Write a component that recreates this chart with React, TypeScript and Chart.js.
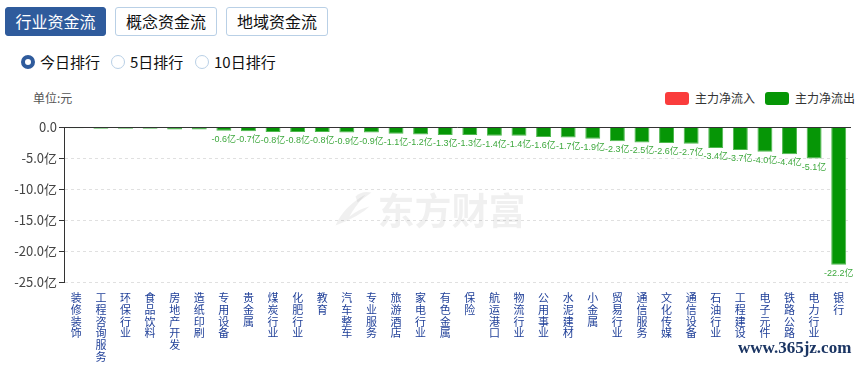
import React, { useEffect, useRef } from "react";
import { Chart, registerables } from "chart.js";

Chart.register(...registerables);

const categories = [
  "装修装饰", "工程咨询服务", "环保行业", "食品饮料", "房地产开发", "造纸印刷", "专用设备", "贵金属",
  "煤炭行业", "化肥行业", "教育", "汽车整车", "专业服务", "旅游酒店", "家电行业", "有色金属",
  "保险", "航运港口", "物流行业", "公用事业", "水泥建材", "小金属", "贸易行业", "通信服务",
  "文化传媒", "通信设备", "石油行业", "工程建设", "电子元件", "铁路公路", "电力行业", "银行",
];

// 主力净流出 (亿元)
const outflow = [
  -0.2, -0.3, -0.3, -0.3, -0.4, -0.4, -0.6, -0.7,
  -0.8, -0.8, -0.8, -0.9, -0.9, -1.1, -1.2, -1.3,
  -1.3, -1.4, -1.4, -1.6, -1.7, -1.9, -2.3, -2.5,
  -2.6, -2.7, -3.4, -3.7, -4.0, -4.4, -5.1, -22.2,
];
// 主力净流入 (none today)
const inflow: (number | null)[] = categories.map(() => null);

const seriesNames = ["主力净流入", "主力净流出"];
const seriesColors = ["#fa3c3c", "#069606"];

const yMin = -25;
const yMax = 0;
const yStep = 5;
const labelThreshold = -0.55;

const FONT = '"Noto Sans CJK SC", sans-serif';

const zeroLinePlugin = {
  id: "zeroLine",
  afterDatasetsDraw(chart: any) {
    const { ctx, chartArea, scales } = chart;
    const y = Math.round(scales.y.getPixelForValue(0)) + 0.5;
    ctx.save();
    ctx.strokeStyle = "#333";
    ctx.lineWidth = 1;
    ctx.beginPath();
    ctx.moveTo(chartArea.left, y);
    ctx.lineTo(chartArea.right, y);
    ctx.stroke();
    ctx.restore();
  },
};

const valueLabelPlugin = {
  id: "valueLabels",
  afterDatasetsDraw(chart: any) {
    const { ctx } = chart;
    const meta = chart.getDatasetMeta(1);
    const data = chart.data.datasets[1].data as number[];
    ctx.save();
    ctx.font = '9px "Liberation Sans", "Noto Sans CJK SC", sans-serif';
    ctx.fillStyle = "#3da83d";
    ctx.textAlign = "center";
    ctx.textBaseline = "top";
    meta.data.forEach((el: any, i: number) => {
      const v = data[i];
      if (v == null || v > labelThreshold) return;
      ctx.fillText(v.toFixed(1) + "亿", el.x, el.y + 4);
    });
    ctx.restore();
  },
};

const watermarkPlugin = {
  id: "watermark",
  beforeDatasetsDraw(chart: any) {
    const { ctx, chartArea } = chart;
    const cx = (chartArea.left + chartArea.right) / 2;
    const cy = (chartArea.top + chartArea.bottom) / 2 + 6;
    ctx.save();
    ctx.fillStyle = "rgba(0,0,0,0.06)";
    const lx = cx - 112;
    ctx.beginPath();
    ctx.moveTo(lx - 10, cy + 15);
    ctx.quadraticCurveTo(lx - 2, cy - 4, lx + 20, cy - 16);
    ctx.quadraticCurveTo(lx + 8, cy - 2, lx + 4, cy + 6);
    ctx.quadraticCurveTo(lx + 14, cy - 2, lx + 24, cy - 4);
    ctx.quadraticCurveTo(lx + 14, cy + 6, lx - 10, cy + 15);
    ctx.closePath();
    ctx.fill();
    ctx.beginPath();
    ctx.moveTo(lx + 10, cy - 14);
    ctx.quadraticCurveTo(lx + 16, cy - 20, lx + 26, cy - 18);
    ctx.quadraticCurveTo(lx + 18, cy - 12, lx + 12, cy - 8);
    ctx.closePath();
    ctx.fill();
    ctx.font = 'bold 37px "Noto Sans CJK SC", sans-serif';
    ctx.textAlign = "left";
    ctx.textBaseline = "middle";
    ctx.fillText("东方财富", cx - 80, cy);
    ctx.restore();
  },
};

function ChartView() {
  const ref = useRef<HTMLCanvasElement | null>(null);
  useEffect(() => {
    if (!ref.current) return;
    const chart = new Chart(ref.current, {
      type: "bar",
      data: {
        labels: categories.map((c) => c.split("")),
        datasets: [
          {
            label: seriesNames[0],
            data: inflow,
            backgroundColor: seriesColors[0],
            borderWidth: 0,
            grouped: false,
          } as any,
          {
            label: seriesNames[1],
            data: outflow,
            backgroundColor: seriesColors[1],
            borderColor: "#4fb84f",
            borderWidth: 1,
            grouped: false,
          } as any,
        ],
      },
      options: {
        animation: false,
        responsive: false,
        maintainAspectRatio: false,
        layout: { padding: { left: 0, right: 9, top: 42, bottom: 0 } },
        datasets: { bar: { categoryPercentage: 0.8, barPercentage: 0.76 } },
        plugins: {
          legend: { display: false },
          tooltip: { enabled: false },
        },
        scales: {
          x: {
            grid: { display: false },
            border: { display: false },
            afterFit: (axis: any) => {
              axis.height = 83;
            },
            ticks: {
              autoSkip: false,
              maxRotation: 0,
              minRotation: 0,
              color: "#1f3f98",
              padding: 2,
              font: { size: 11, lineHeight: 1.07, family: FONT },
            },
          },
          y: {
            min: yMin,
            max: yMax,
            afterFit: (axis: any) => {
              axis.width = 64;
            },
            ticks: {
              stepSize: yStep,
              color: "#444",
              padding: 2,
              font: { size: 13, family: FONT },
              callback: (v: any) => (Number(v) === 0 ? "0.0" : Number(v).toFixed(1) + "亿"),
            },
            grid: {
              color: "#e0e0e0",
              tickColor: "#333",
              tickLength: 5,
              tickBorderDash: [],
            },
            border: { display: true, color: "#333", width: 1, dash: [3, 3] },
          },
        },
      },
      plugins: [watermarkPlugin, zeroLinePlugin, valueLabelPlugin],
    });
    return () => chart.destroy();
  }, []);
  return (
    <canvas
      ref={ref}
      width={860}
      height={280}
      style={{ position: "absolute", left: 0, top: 85, width: 860, height: 280 }}
    />
  );
}

const btnBase: React.CSSProperties = {
  position: "absolute",
  top: 7,
  height: 29,
  boxSizing: "border-box",
  border: "1px solid #b9d0e6",
  borderRadius: 3,
  fontSize: 16,
  lineHeight: "27px",
  textAlign: "center",
  color: "#111",
  background: "#fff",
};

function Radio({ x, label, checked }: { x: number; label: string; checked: boolean }) {
  return (
    <>
      <div
        style={{
          position: "absolute",
          left: x - 7,
          top: 55,
          width: 14,
          height: 14,
          boxSizing: "border-box",
          borderRadius: "50%",
          border: checked ? "4px solid #2f5b9c" : "1px solid #b9d0e6",
          background: "#fff",
        }}
      />
      <div style={{ position: "absolute", left: x + 12, top: 52, fontSize: 15, lineHeight: "20px", color: "#111" }}>
        {label}
      </div>
    </>
  );
}

function LegendItem({ x, color, text }: { x: number; color: string; text: string }) {
  return (
    <>
      <div style={{ position: "absolute", left: x, top: 92, width: 24, height: 13, borderRadius: 3, background: color }} />
      <div style={{ position: "absolute", left: x + 30, top: 89, fontSize: 12, lineHeight: "18px", color: "#333" }}>
        {text}
      </div>
    </>
  );
}

export default function App() {
  return (
    <div
      style={{
        position: "fixed",
        left: 0,
        top: 0,
        width: 860,
        height: 365,
        overflow: "hidden",
        background: "#fff",
        fontFamily: '"Noto Sans CJK SC", "Noto Sans", sans-serif',
      }}
    >
      <div style={{ ...btnBase, left: 5, width: 101, background: "#2f5b9c", border: "1px solid #2f5b9c", color: "#fff" }}>
        行业资金流
      </div>
      <div style={{ ...btnBase, left: 115, width: 102 }}>概念资金流</div>
      <div style={{ ...btnBase, left: 226, width: 102 }}>地域资金流</div>
      <Radio x={28} label="今日排行" checked={true} />
      <Radio x={118} label="5日排行" checked={false} />
      <Radio x={202} label="10日排行" checked={false} />
      <div style={{ position: "absolute", left: 33, top: 89, fontSize: 12, lineHeight: "18px", color: "#555" }}>单位:元</div>
      <LegendItem x={665} color={seriesColors[0]} text={seriesNames[0]} />
      <LegendItem x={765} color={seriesColors[1]} text={seriesNames[1]} />
      <ChartView />
      <div
        style={{
          position: "absolute",
          left: 738,
          top: 338,
          fontSize: 17,
          fontWeight: "bold",
          fontFamily: '"Liberation Serif", serif',
          color: "#1b3563",
          lineHeight: "20px",
        }}
      >
        www.365jz.com
      </div>
    </div>
  );
}
